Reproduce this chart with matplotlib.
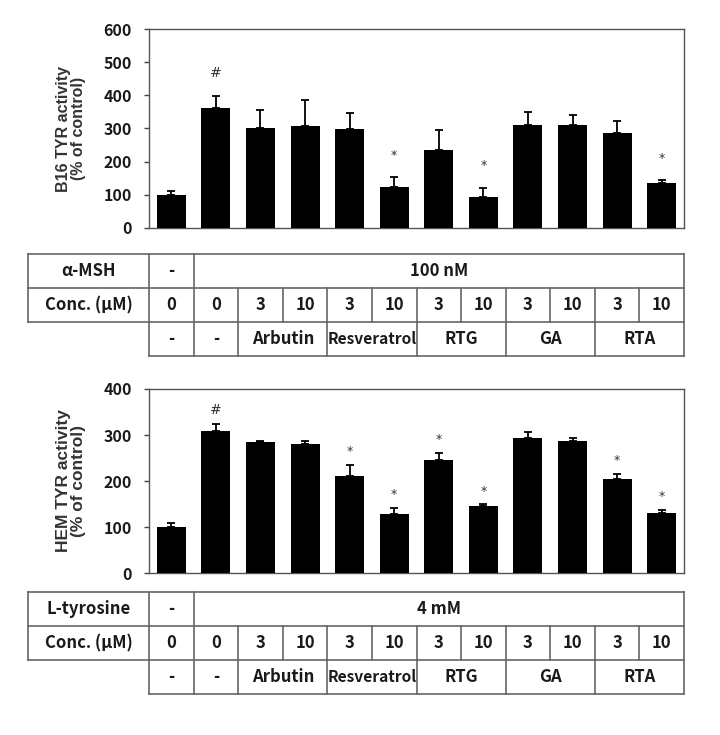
import matplotlib.pyplot as plt
import numpy as np

# column labels shared by both panels
conc = ['0', '0', '3', '10', '3', '10', '3', '10', '3', '10', '3', '10']
groups = ['-', '-', 'Arbutin', 'Resveratrol', 'RTG', 'GA', 'RTA']
group_start = [0, 1, 2, 4, 6, 8, 10]
group_end = [0, 1, 3, 5, 7, 9, 11]

# B16 cells, alpha-MSH stimulated
b16_mean = [101, 361, 303, 308, 299, 125, 234, 92, 312, 312, 286, 135]
b16_err = [11, 38, 52, 77, 48, 29, 62, 30, 39, 29, 37, 10]
b16_mark = ['', '#', '', '', '', '*', '', '*', '', '', '', '*']

# HEM cells, L-tyrosine stimulated
hem_mean = [101, 309, 284, 281, 211, 128, 245, 145, 294, 288, 205, 130]
hem_err = [7, 14, 3, 6, 24, 14, 15, 4, 13, 6, 11, 7]
hem_mark = ['', '#', '', '', '*', '*', '*', '*', '', '', '*', '*']

W, H = 720, 735
AX_L, AX_R = 149, 684
TAB_L = 28
ROW_H = 34
LINE_C = '#666666'
TXT_FONT = ['Noto Sans CJK KR', 'DejaVu Sans']
LBL_FONT = ['Liberation Sans', 'DejaVu Sans']


def draw_panel(ax, means, errs, marks, ymax, ystep, ylabel, mark_off, label_fs):
    x = np.arange(len(means))
    ax.bar(x, means, width=0.65, color='black', zorder=3)
    ax.errorbar(x, means, yerr=[np.zeros(len(errs)), errs], fmt='none', ecolor='black',
                elinewidth=1.3, capsize=3, capthick=1.3, zorder=2)
    for i in range(len(means)):
        if marks[i]:
            fs = 10 if marks[i] == '#' else 9
            ax.annotate(marks[i], (x[i], means[i] + errs[i]), xytext=(0, mark_off),
                        textcoords='offset points', ha='center', va='bottom',
                        fontsize=fs, color='#333333', family=['DejaVu Sans'])
    ax.set_xlim(-0.5, len(means) - 0.5)
    ax.set_ylim(0, ymax)
    ax.set_yticks(np.arange(0, ymax + 1, ystep))
    ax.set_xticks([])
    ax.tick_params(axis='y', direction='out', length=3.5, width=1, color='#444444', pad=9)
    for lab in ax.get_yticklabels():
        lab.set_fontsize(11.5)
        lab.set_fontweight('bold')
        lab.set_family(TXT_FONT)
        lab.set_color('#1a1a1a')
    for s in ax.spines.values():
        s.set_color('#555555')
        s.set_linewidth(1)
    ax.set_ylabel(ylabel, fontsize=label_fs, fontweight='bold', color='#333333',
                  family=LBL_FONT, linespacing=0.95)
    ax.yaxis.set_label_coords(-0.118, 0.5)


def draw_table(ov, y0, first_label, first_value):
    n = len(conc)
    xb = [AX_L + i * (AX_R - AX_L) / n for i in range(n + 1)]
    right = xb[-1]
    kw = dict(color=LINE_C, lw=1.2)
    # horizontal lines
    for k in range(3):
        ov.plot([TAB_L, right], [y0 + k * ROW_H] * 2, **kw)
    ov.plot([xb[0], right], [y0 + 3 * ROW_H] * 2, **kw)
    # vertical lines
    ov.plot([TAB_L, TAB_L], [y0, y0 + 2 * ROW_H], **kw)
    for xx in [xb[0], xb[1], right]:
        ov.plot([xx, xx], [y0, y0 + 3 * ROW_H], **kw)
    for i in range(2, n):
        ov.plot([xb[i], xb[i]], [y0 + ROW_H, y0 + 2 * ROW_H], **kw)
    for s in group_start[2:]:
        ov.plot([xb[s], xb[s]], [y0 + 2 * ROW_H, y0 + 3 * ROW_H], **kw)

    tkw = dict(ha='center', va='center', fontsize=12, fontweight='bold',
               family=TXT_FONT, color='#1a1a1a')
    r1 = y0 + ROW_H / 2
    r2 = y0 + 1.5 * ROW_H
    r3 = y0 + 2.5 * ROW_H
    ov.text((TAB_L + xb[0]) / 2, r1, first_label, **tkw)
    ov.text((xb[0] + xb[1]) / 2, r1, '-', **tkw)
    ov.text((xb[1] + right) / 2, r1, first_value, **tkw)
    ov.text((TAB_L + xb[0]) / 2, r2, 'Conc. (μM)', **tkw)
    for i in range(n):
        ov.text((xb[i] + xb[i + 1]) / 2, r2, conc[i], **tkw)
    for g, a, b in zip(groups, group_start, group_end):
        gkw = dict(tkw)
        if len(g) > 8:
            gkw['fontsize'] = 11.2
        ov.text((xb[a] + xb[b + 1]) / 2, r3, g, **gkw)


fig = plt.figure(figsize=(W / 100, H / 100), dpi=100)

ax1 = fig.add_axes([AX_L / W, (H - 228) / H, (AX_R - AX_L) / W, 199 / H])
draw_panel(ax1, b16_mean, b16_err, b16_mark, 600, 100,
           'B16 TYR activity\n(% of control)', 11, 11.5)

ax2 = fig.add_axes([AX_L / W, (H - 573) / H, (AX_R - AX_L) / W, 184 / H])
draw_panel(ax2, hem_mean, hem_err, hem_mark, 400, 100,
           'HEM TYR activity\n(% of control)', 5, 12.5)

ov = fig.add_axes([0, 0, 1, 1])
ov.set_xlim(0, W)
ov.set_ylim(H, 0)
ov.axis('off')
ov.patch.set_alpha(0)

draw_table(ov, 254, 'α-MSH', '100 nM')
draw_table(ov, 592, 'L-tyrosine', '4 mM')

fig.savefig('out.png', dpi=100)
